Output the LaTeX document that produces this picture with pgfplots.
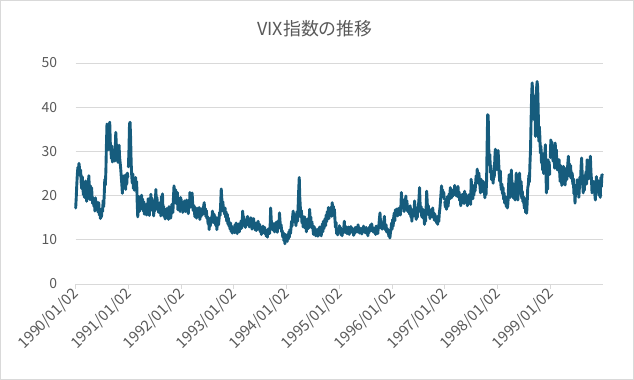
\documentclass[border=0pt]{standalone}
\usepackage{pgfplots}
\usepackage{pgfplotstable}
\pgfplotsset{compat=1.18}
\usepackage{fontspec}
\setmainfont{Noto Sans CJK JP}
\definecolor{vixcol}{RGB}{22,92,125}
\definecolor{txt}{RGB}{89,89,89}
\definecolor{gridc}{RGB}{217,217,217}
\tikzset{vixline/.style={color=vixcol, line width=2.9bp, line join=round, line cap=round, mark=none}}

% VIX values, 8 readings per month, one table per year
\pgfplotstableread[row sep=\\,header=false]{
17.2\\19.5\\22.4\\24.8\\26.4\\25.1\\27.3\\26.2\\
24.5\\25.8\\23.0\\21.6\\24.3\\22.1\\20.2\\21.5\\
19.6\\21.8\\23.3\\20.4\\18.7\\21.2\\19.3\\22.6\\
24.5\\21.0\\19.1\\22.2\\20.3\\21.8\\19.4\\18.2\\
19.5\\17.6\\18.8\\16.5\\19.5\\17.2\\18.6\\16.9\\
17.8\\16.2\\18.4\\15.6\\16.9\\14.8\\16.3\\15.2\\
17.1\\16.4\\18.9\\17.5\\20.2\\23.7\\22.4\\25.6\\
31.5\\36.2\\33.4\\35.6\\30.4\\34.8\\36.6\\32.1\\
30.6\\28.4\\31.2\\27.6\\29.8\\28.2\\30.4\\27.8\\
30.5\\34.3\\31.6\\28.4\\30.9\\27.5\\29.6\\31.4\\
28.6\\27.4\\26.1\\24.2\\22.6\\20.5\\23.4\\21.8\\
24.5\\22.1\\23.6\\21.4\\24.8\\22.6\\25.1\\24.2\\
}\dA
\pgfplotstableread[row sep=\\,header=false]{
26.5\\30.4\\36.2\\36.6\\33.1\\27.4\\24.6\\22.8\\
24.9\\21.6\\23.8\\21.2\\22.6\\24.1\\21.5\\23.2\\
18.4\\15.2\\17.6\\19.8\\16.4\\18.3\\16.9\\17.8\\
20.1\\17.4\\19.2\\16.5\\18.6\\15.8\\17.2\\16.1\\
17.8\\15.6\\18.2\\16.4\\19.3\\17.1\\15.5\\17.4\\
18.6\\20.3\\17.2\\19.4\\16.6\\18.1\\15.4\\17.6\\
16.5\\18.4\\21.4\\17.8\\19.6\\16.9\\18.3\\16.2\\
17.8\\16.1\\18.5\\15.4\\19.8\\17.2\\20.4\\16.5\\
17.6\\15.2\\16.8\\14.7\\16.3\\15.0\\17.1\\15.6\\
16.4\\14.6\\17.5\\15.8\\16.9\\14.9\\16.2\\18.0\\
17.4\\16.2\\19.5\\22.2\\20.6\\18.4\\21.3\\19.2\\
18.1\\20.7\\16.8\\19.4\\17.2\\18.8\\16.4\\19.6\\
}\dB
\pgfplotstableread[row sep=\\,header=false]{
19.2\\17.4\\18.6\\16.2\\17.9\\16.5\\18.8\\17.1\\
16.4\\18.2\\19.0\\16.8\\17.5\\15.9\\18.4\\17.2\\
20.7\\18.3\\19.6\\17.4\\20.6\\18.1\\16.6\\17.8\\
16.8\\15.2\\17.3\\16.0\\14.9\\16.8\\15.4\\17.2\\
16.1\\17.3\\14.6\\16.4\\15.2\\17.0\\15.6\\16.3\\
15.8\\17.6\\18.4\\16.2\\17.1\\15.3\\16.6\\14.8\\
15.3\\13.6\\14.8\\12.3\\14.2\\13.1\\15.0\\13.8\\
14.6\\16.5\\15.2\\13.9\\15.8\\14.3\\15.3\\13.2\\
14.5\\12.3\\13.8\\15.0\\13.4\\14.7\\16.2\\15.5\\
18.3\\21.5\\19.4\\17.1\\18.6\\16.4\\17.2\\15.8\\
17.2\\15.1\\16.3\\14.2\\15.8\\13.6\\14.9\\13.1\\
13.6\\12.4\\13.8\\11.9\\13.1\\11.5\\12.8\\12.2\\
}\dC
\pgfplotstableread[row sep=\\,header=false]{
12.8\\11.6\\13.4\\12.1\\13.8\\12.5\\11.4\\12.9\\
12.2\\13.6\\11.8\\13.1\\12.4\\14.3\\12.6\\13.4\\
16.5\\14.2\\15.3\\13.2\\14.6\\12.8\\14.1\\13.3\\
13.8\\15.3\\13.6\\14.8\\12.9\\14.4\\13.2\\15.0\\
13.6\\12.4\\14.1\\13.0\\14.8\\12.7\\13.5\\12.2\\
13.4\\12.1\\13.9\\12.6\\14.2\\13.0\\12.3\\13.5\\
11.8\\12.9\\11.2\\12.6\\11.5\\13.1\\11.9\\12.4\\
12.8\\11.3\\12.2\\10.8\\11.9\\10.6\\12.4\\11.5\\
12.6\\11.4\\13.2\\17.2\\14.6\\12.9\\13.8\\12.2\\
12.9\\13.6\\11.8\\13.2\\12.1\\14.0\\12.5\\11.7\\
12.8\\14.3\\13.1\\16.1\\14.2\\12.6\\13.4\\11.8\\
12.1\\10.6\\11.6\\9.8\\10.9\\9.1\\11.2\\10.4\\
}\dD
\pgfplotstableread[row sep=\\,header=false]{
10.4\\9.6\\11.2\\10.1\\11.8\\10.6\\12.3\\11.4\\
12.6\\14.2\\13.1\\15.3\\16.5\\14.6\\15.8\\13.9\\
14.8\\13.2\\15.1\\16.4\\14.2\\17.6\\21.2\\24.1\\
19.6\\17.3\\15.1\\16.6\\13.8\\15.4\\12.9\\14.6\\
13.4\\15.2\\12.6\\14.1\\11.8\\13.6\\12.4\\14.8\\
12.6\\14.3\\16.9\\13.5\\15.2\\12.8\\14.1\\13.0\\
12.4\\11.2\\13.0\\11.6\\12.6\\10.9\\12.1\\11.4\\
11.8\\10.8\\12.5\\11.3\\12.9\\11.1\\12.2\\10.9\\
12.3\\13.6\\11.8\\14.2\\12.5\\13.9\\14.8\\13.2\\
15.6\\14.1\\16.4\\15.2\\17.3\\14.8\\16.1\\15.4\\
16.2\\17.4\\15.3\\18.4\\16.8\\17.6\\15.5\\16.9\\
14.6\\12.8\\13.9\\11.4\\12.6\\11.1\\12.4\\11.8\\
}\dE
\pgfplotstableread[row sep=\\,header=false]{
13.2\\11.6\\12.8\\11.1\\12.4\\10.9\\12.1\\11.5\\
12.6\\14.2\\12.3\\13.1\\11.6\\12.9\\11.4\\12.2\\
11.8\\12.9\\11.2\\12.5\\11.6\\13.0\\12.1\\12.7\\
11.6\\12.4\\11.0\\12.2\\11.4\\12.8\\11.7\\12.3\\
12.9\\11.8\\13.4\\12.2\\12.8\\11.5\\12.6\\11.9\\
12.4\\11.3\\12.7\\11.8\\13.1\\12.0\\12.5\\11.6\\
11.9\\12.8\\11.4\\12.2\\10.9\\12.4\\11.6\\12.9\\
12.3\\13.4\\12.1\\13.6\\12.0\\12.8\\11.7\\12.5\\
11.8\\12.6\\11.2\\13.1\\11.9\\12.4\\11.4\\12.9\\
13.4\\14.8\\16.1\\13.8\\12.6\\13.9\\12.4\\13.2\\
12.8\\14.2\\15.3\\13.1\\12.2\\13.4\\11.8\\12.6\\
11.6\\12.3\\10.8\\11.9\\10.4\\11.6\\12.3\\13.8\\
}\dF
\pgfplotstableread[row sep=\\,header=false]{
12.4\\14.6\\13.1\\15.2\\16.1\\14.3\\16.8\\15.5\\
16.2\\17.0\\15.4\\16.6\\15.8\\17.2\\16.1\\15.6\\
17.4\\20.7\\18.3\\19.2\\17.1\\18.6\\16.4\\17.9\\
18.2\\19.9\\17.3\\18.8\\16.5\\17.6\\16.2\\17.4\\
15.8\\17.7\\15.2\\16.4\\14.2\\16.1\\15.3\\17.0\\
16.2\\18.8\\16.6\\15.4\\14.6\\16.8\\15.1\\17.2\\
17.6\\19.4\\21.8\\18.2\\16.3\\17.5\\15.2\\16.6\\
16.9\\14.8\\15.6\\13.5\\15.4\\14.2\\17.3\\21.0\\
18.4\\16.2\\17.7\\15.6\\16.9\\14.8\\16.4\\15.5\\
16.9\\15.3\\17.2\\15.0\\16.1\\14.4\\15.8\\14.6\\
15.2\\13.8\\14.9\\13.5\\15.4\\14.1\\16.0\\17.1\\
18.6\\20.4\\22.2\\19.9\\21.3\\19.6\\20.8\\19.2\\
}\dG
\pgfplotstableread[row sep=\\,header=false]{
18.6\\17.4\\19.2\\16.9\\18.1\\19.8\\17.6\\19.3\\
20.4\\19.2\\21.8\\20.1\\19.5\\21.2\\19.8\\20.6\\
21.4\\20.2\\22.3\\20.8\\21.6\\19.9\\21.1\\20.4\\
22.1\\19.6\\20.8\\18.9\\20.2\\17.7\\19.4\\18.6\\
20.3\\18.9\\19.8\\18.2\\21.0\\19.1\\20.4\\18.7\\
19.6\\17.7\\19.1\\18.3\\20.2\\18.5\\19.7\\18.0\\
23.7\\21.6\\20.4\\19.3\\21.2\\20.1\\22.4\\21.0\\
22.6\\24.5\\23.1\\26.0\\24.2\\22.8\\25.1\\23.4\\
22.1\\20.6\\23.7\\21.4\\22.6\\20.9\\23.2\\21.8\\
20.9\\19.5\\21.4\\20.2\\23.2\\31.3\\38.3\\38.1\\
30.6\\27.4\\29.3\\25.2\\26.8\\23.6\\25.4\\24.1\\
22.8\\25.6\\24.2\\28.4\\30.5\\26.2\\28.3\\25.8\\
}\dH
\pgfplotstableread[row sep=\\,header=false]{
26.4\\30.2\\27.6\\24.8\\23.2\\25.6\\22.4\\21.3\\
22.6\\20.4\\21.8\\19.2\\20.6\\18.3\\19.8\\18.6\\
17.5\\19.2\\17.2\\18.4\\22.1\\24.7\\21.4\\19.6\\
21.3\\25.8\\23.4\\20.6\\22.8\\19.4\\21.6\\20.2\\
19.0\\21.8\\25.1\\22.4\\20.3\\19.0\\21.6\\23.8\\
25.1\\22.6\\20.4\\23.2\\19.4\\21.0\\18.6\\19.8\\
18.2\\17.1\\19.3\\16.2\\17.4\\16.0\\18.6\\21.8\\
22.4\\24.6\\23.1\\27.2\\30.4\\36.8\\42.5\\45.5\\
43.2\\39.4\\42.6\\37.1\\40.8\\33.4\\38.6\\44.2\\
45.8\\44.6\\39.5\\32.3\\35.6\\33.4\\29.6\\31.2\\
27.4\\29.6\\25.8\\27.6\\25.0\\26.8\\29.2\\31.5\\
25.6\\20.6\\23.8\\21.4\\28.1\\25.2\\27.6\\24.8\\
}\dI
\pgfplotstableread[row sep=\\,header=false]{
28.6\\32.6\\30.4\\32.1\\29.2\\27.8\\30.6\\28.4\\
26.2\\31.9\\28.6\\30.4\\27.1\\25.8\\28.2\\26.9\\
28.1\\25.4\\23.2\\26.8\\24.1\\22.3\\25.6\\23.8\\
26.6\\23.4\\25.2\\22.4\\24.8\\26.2\\23.6\\25.4\\
27.4\\28.9\\25.6\\27.2\\24.3\\26.8\\23.9\\25.2\\
24.9\\22.6\\23.8\\20.4\\21.6\\18.3\\20.9\\22.4\\
21.3\\23.6\\20.4\\22.1\\19.6\\21.8\\24.2\\22.6\\
26.4\\28.5\\25.2\\22.6\\20.6\\23.4\\21.2\\24.6\\
23.0\\25.4\\22.6\\28.1\\24.6\\26.3\\23.8\\25.9\\
27.2\\28.9\\25.4\\23.6\\20.6\\22.8\\21.4\\23.2\\
22.8\\20.4\\19.0\\21.6\\24.3\\22.1\\20.8\\23.4\\
21.6\\20.0\\22.4\\19.6\\24.1\\22.0\\24.7\\24.7\\
}\dJ

\begin{document}
\pgfplotstablegetrowsof{\dA}\let\nA\pgfplotsretval
\pgfplotstablegetrowsof{\dB}\let\nB\pgfplotsretval
\pgfplotstablegetrowsof{\dC}\let\nC\pgfplotsretval
\pgfplotstablegetrowsof{\dD}\let\nD\pgfplotsretval
\pgfplotstablegetrowsof{\dE}\let\nE\pgfplotsretval
\pgfplotstablegetrowsof{\dF}\let\nF\pgfplotsretval
\pgfplotstablegetrowsof{\dG}\let\nG\pgfplotsretval
\pgfplotstablegetrowsof{\dH}\let\nH\pgfplotsretval
\pgfplotstablegetrowsof{\dI}\let\nI\pgfplotsretval
\pgfplotstablegetrowsof{\dJ}\let\nJ\pgfplotsretval
\begin{tikzpicture}
\draw[color=gridc, line width=0.75bp] (0.4bp,0.4bp) rectangle (633.6bp,379.6bp);
\node[text=txt, font=\fontsize{18}{21}\selectfont] at (315bp,351bp) {VIX指数の推移};
\begin{axis}[
  at={(75.7bp,96bp)}, anchor=south west,
  scale only axis, width=527.3bp, height=221bp,
  xmin=1990, xmax=2000, ymin=0, ymax=50,
  axis x line*=bottom, axis y line*=left,
  x axis line style={draw=gridc, line width=0.75bp, -},
  y axis line style={draw=none},
  xtick={1990,...,1999},
  xticklabels={1990/01/02,1991/01/02,1992/01/02,1993/01/02,1994/01/02,1995/01/02,1996/01/02,1997/01/02,1998/01/02,1999/01/02},
  xtick style={draw=gridc, line width=0.75bp},
  tick align=outside, major tick length=5bp,
  xticklabel style={rotate=45, anchor=east, text=txt, font=\fontsize{15}{17}\selectfont, inner sep=1bp, yshift=-2bp},
  ytick={0,10,...,50},
  ymajorgrids, grid style={draw=gridc, line width=0.75bp},
  ytick style={draw=none},
  yticklabel style={text=txt, font=\fontsize{14}{16}\selectfont, xshift=-10bp},
  /pgf/number format/assume math mode=true,
  clip=false,
]
\addplot[vixline] table[x expr={1990+\coordindex/\nA}, y index=0] {\dA};
\addplot[vixline] table[x expr={1991+\coordindex/\nB}, y index=0] {\dB};
\addplot[vixline] table[x expr={1992+\coordindex/\nC}, y index=0] {\dC};
\addplot[vixline] table[x expr={1993+\coordindex/\nD}, y index=0] {\dD};
\addplot[vixline] table[x expr={1994+\coordindex/\nE}, y index=0] {\dE};
\addplot[vixline] table[x expr={1995+\coordindex/\nF}, y index=0] {\dF};
\addplot[vixline] table[x expr={1996+\coordindex/\nG}, y index=0] {\dG};
\addplot[vixline] table[x expr={1997+\coordindex/\nH}, y index=0] {\dH};
\addplot[vixline] table[x expr={1998+\coordindex/\nI}, y index=0] {\dI};
\addplot[vixline] table[x expr={1999+\coordindex/\nJ}, y index=0] {\dJ};
\end{axis}
\end{tikzpicture}
\end{document}
